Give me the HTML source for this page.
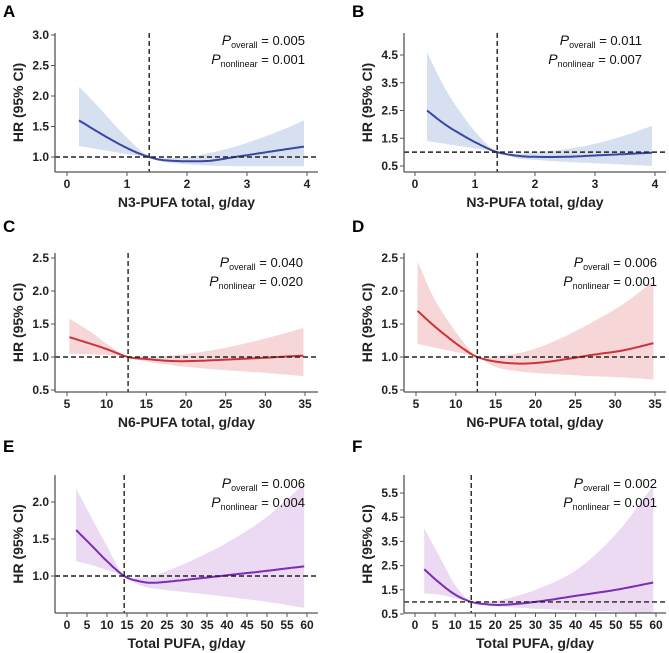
<!DOCTYPE html>
<html><head><meta charset="utf-8">
<style>
html,body{margin:0;padding:0;background:#fff;}
svg{display:block;font-family:"Liberation Sans",Arial,sans-serif;}
.tick{font-size:12px;font-weight:bold;fill:#222;}
.atitle{font-size:14px;font-weight:bold;fill:#222;}
.plab{font-size:17px;font-weight:bold;fill:#000;}
.pt{font-size:13px;fill:#111;}
</style></head>
<body>
<svg id="fig" width="669" height="653" viewBox="0 0 669 653"></svg>
<script>
// ---- Panel A data ----
const aX  = [0.2,0.5,0.8,1.1,1.37,1.6,2.0,2.4,2.8,3.2,3.6,3.95];
const aHR = [1.6,1.42,1.25,1.1,1.0,0.95,0.93,0.94,1.0,1.06,1.12,1.17];
const aLo = [1.18,1.13,1.08,1.03,1.0,0.92,0.88,0.86,0.85,0.85,0.85,0.85];
const aHi = [2.15,1.85,1.52,1.22,1.0,0.98,1.0,1.07,1.17,1.3,1.45,1.6];
const aXTicks = [0,1,2,3,4];
const aYTicks = [1.0,1.5,2.0,2.5,3.0];
// ---- Panel B data ----
const bX  = [0.2,0.5,0.8,1.1,1.37,1.7,2.0,2.5,3.0,3.5,3.95];
const bHR = [2.5,2.0,1.6,1.25,1.0,0.87,0.83,0.83,0.88,0.93,0.98];
const bLo = [1.4,1.3,1.2,1.1,1.0,0.78,0.72,0.65,0.6,0.55,0.5];
const bHi = [4.6,3.3,2.3,1.5,1.0,0.95,1.0,1.1,1.3,1.6,1.95];
const bXTicks = [0,1,2,3,4];
const bYTicks = [0.5,1.5,2.5,3.5,4.5];
// ---- Panel C data ----
const cX  = [5.3,8,10,12.7,15,18,21,25,30,34.8];
const cHR = [1.3,1.2,1.12,1.0,0.97,0.94,0.94,0.96,0.99,1.02];
const cLo = [1.05,1.04,1.03,1.0,0.93,0.88,0.84,0.80,0.76,0.71];
const cHi = [1.58,1.38,1.2,1.0,1.0,1.02,1.06,1.14,1.28,1.44];
const cXTicks = [5,10,15,20,25,30,35];
const cYTicks = [0.5,1.0,1.5,2.0,2.5];
// ---- Panel D data ----
const dX  = [5.2,7,9,11,12.7,15,18,21,24,27,31,34.8];
const dHR = [1.7,1.5,1.3,1.12,1.0,0.93,0.9,0.92,0.97,1.03,1.1,1.21];
const dLo = [1.2,1.15,1.1,1.05,1.0,0.85,0.78,0.75,0.73,0.71,0.69,0.66];
const dHi = [2.45,1.95,1.55,1.22,1.0,1.01,1.06,1.17,1.33,1.52,1.8,2.15];
const dXTicks = [5,10,15,20,25,30,35];
const dYTicks = [0.5,1.0,1.5,2.0,2.5];
// ---- Panel E data ----
const eX  = [2.3,6,10,14.3,18,22,30,40,50,59.3];
const eHR = [1.62,1.42,1.2,1.0,0.93,0.91,0.95,1.01,1.07,1.13];
const eLo = [1.2,1.15,1.08,1.0,0.88,0.83,0.78,0.72,0.65,0.57];
const eHi = [2.18,1.8,1.4,1.0,0.98,1.01,1.18,1.45,1.8,2.25];
const eXTicks = [0,5,10,15,20,25,30,35,40,45,50,55,60];
const eYTicks = [1.0,1.5,2.0];
// ---- Panel F data ----
const fX  = [2.3,6,10,14,18,22,30,40,50,59.3];
const fHR = [2.35,1.8,1.3,1.0,0.9,0.88,1.0,1.25,1.5,1.8];
const fLo = [1.35,1.3,1.15,1.0,0.85,0.8,0.72,0.65,0.6,0.55];
const fHi = [4.05,2.9,1.7,1.0,1.0,1.1,1.5,2.3,3.8,5.8];
const fXTicks = [0,5,10,15,20,25,30,35,40,45,50,55,60];
const fYTicks = [0.5,1.5,2.5,3.5,4.5,5.5];

const svg = document.getElementById('fig');
const NS = 'http://www.w3.org/2000/svg';
function mk(tag, attrs, parent){const e=document.createElementNS(NS,tag);for(const k in attrs)e.setAttribute(k,attrs[k]);(parent||svg).appendChild(e);return e;}

function smooth(pts){ // catmull-rom sampled
  const out=[];
  for(let i=0;i<pts.length-1;i++){
    const p0=pts[Math.max(0,i-1)],p1=pts[i],p2=pts[i+1],p3=pts[Math.min(pts.length-1,i+2)];
    for(let t=0;t<1;t+=0.1){
      const t2=t*t,t3=t2*t;
      const f=(a,b,c,d)=>0.5*((2*b)+(-a+c)*t+(2*a-5*b+4*c-d)*t2+(-a+3*b-3*c+d)*t3);
      out.push([f(p0[0],p1[0],p2[0],p3[0]),f(p0[1],p1[1],p2[1],p3[1])]);
    }
  }
  out.push(pts[pts.length-1]);
  return out;
}

const panels = [
 {id:'a',L:'A',X:aX,HR:aHR,Lo:aLo,Hi:aHi,xt:aXTicks,yt:aYTicks,fmt:1,
  ax:55,top:33,base:172,right:318,x0:0,x1:4,px0:67,px1:307,y0:1.0,y1:3.0,py0:157,py1:35,
  ref:1.37,line:'#3a47a0',band:'#d6e0f1',p1:'0.005',p2:'0.001',pe:305,py:45,lx:3,ly:17,xt_title:'N3-PUFA total, g/day',off:0},
 {id:'b',L:'B',X:bX,HR:bHR,Lo:bLo,Hi:bHi,xt:bXTicks,yt:bYTicks,fmt:1,
  ax:404,top:33,base:172,right:666,x0:0,x1:4,px0:415,px1:655,y0:0.5,y1:4.5,py0:166,py1:55,
  ref:1.37,line:'#3a47a0',band:'#d6e0f1',p1:'0.011',p2:'0.007',pe:642,py:45,lx:352,ly:17,xt_title:'N3-PUFA total, g/day'},
 {id:'c',L:'C',X:cX,HR:cHR,Lo:cLo,Hi:cHi,xt:cXTicks,yt:cYTicks,fmt:1,
  ax:55,top:253,base:392,right:318,x0:5,x1:35,px0:67,px1:305,y0:0.5,y1:2.5,py0:390,py1:258,
  ref:12.7,line:'#cc3339',band:'#f7d6d8',p1:'0.040',p2:'0.020',pe:303,py:267,lx:3,ly:232,xt_title:'N6-PUFA total, g/day'},
 {id:'d',L:'D',X:dX,HR:dHR,Lo:dLo,Hi:dHi,xt:dXTicks,yt:dYTicks,fmt:1,
  ax:404,top:253,base:392,right:666,x0:5,x1:35,px0:416,px1:655,y0:0.5,y1:2.5,py0:390,py1:258,
  ref:12.7,line:'#cc3339',band:'#f7d6d8',p1:'0.006',p2:'0.001',pe:657,py:267,lx:352,ly:232,xt_title:'N6-PUFA total, g/day'},
 {id:'e',L:'E',X:eX,HR:eHR,Lo:eLo,Hi:eHi,xt:eXTicks,yt:eYTicks,fmt:1,
  ax:55,top:475,base:613,right:318,x0:0,x1:60,px0:67,px1:307,y0:1.0,y1:2.0,py0:576,py1:502,
  ref:14.3,line:'#7a2db5',band:'#ecd9f2',p1:'0.006',p2:'0.004',pe:305,py:488,lx:3,ly:452,xt_title:'Total PUFA, g/day'},
 {id:'f',L:'F',X:fX,HR:fHR,Lo:fLo,Hi:fHi,xt:fXTicks,yt:fYTicks,fmt:1,
  ax:404,top:475,base:613,right:666,x0:0,x1:60,px0:415,px1:656,y0:0.5,y1:5.5,py0:614,py1:493,
  ref:14,line:'#7a2db5',band:'#ecd9f2',p1:'0.002',p2:'0.001',pe:657,py:488,lx:352,ly:452,xt_title:'Total PUFA, g/day'}
];

panels.forEach(P=>{
  const g = mk('g',{});
  
  
  const sx = v => P.px0 + (v-P.x0)*(P.px1-P.px0)/(P.x1-P.x0);
  const sy = v => P.py0 + (v-P.y0)*(P.py1-P.py0)/(P.y1-P.y0);
  const lab = mk('text',{x:P.lx,y:P.ly,class:'plab'},g); lab.textContent=P.L;
  
  
  // band
  const hiPts = smooth(P.X.map((x,i)=>[sx(x),sy(P.Hi[i])]));
  const loPts = smooth(P.X.map((x,i)=>[sx(x),sy(P.Lo[i])]));
  const bandPts = hiPts.concat(loPts.slice().reverse());
  const band = mk('path',{d:'M'+bandPts.map(p=>p[0].toFixed(1)+','+p[1].toFixed(1)).join('L')+'Z',fill:P.band,stroke:'none'},g);
  
  
  // line
  const hrPts = smooth(P.X.map((x,i)=>[sx(x),sy(P.HR[i])]));
  const ln = mk('path',{d:'M'+hrPts.map(p=>p[0].toFixed(1)+','+p[1].toFixed(1)).join('L'),fill:'none',stroke:P.line,'stroke-width':2},g);
  
  
  // reference lines
  const hl = mk('line',{x1:P.ax,x2:P.right,y1:sy(1),y2:sy(1),stroke:'#222','stroke-width':1.4,'stroke-dasharray':'5,3'},g);
  
  
  const vl = mk('line',{x1:sx(P.ref),x2:sx(P.ref),y1:P.top,y2:P.base,stroke:'#222','stroke-width':1.4,'stroke-dasharray':'5,3'},g);
  
  
  // axes
  const ya = mk('line',{x1:P.ax,x2:P.ax,y1:P.top,y2:P.base,stroke:'#555','stroke-width':1.3},g);
  
  
  const xa = mk('line',{x1:P.ax,x2:P.right,y1:P.base,y2:P.base,stroke:'#555','stroke-width':1.3},g);
  
  
  P.xt.forEach(v=>{
    mk('line',{x1:sx(v),x2:sx(v),y1:P.base,y2:P.base+4,stroke:'#555','stroke-width':1},g);
    const t=mk('text',{x:sx(v),y:P.base+16,class:'tick','text-anchor':'middle'},g); t.textContent=v;
    
    
  });
  P.yt.forEach(v=>{
    mk('line',{x1:P.ax-4,x2:P.ax,y1:sy(v),y2:sy(v),stroke:'#555','stroke-width':1},g);
    const t=mk('text',{x:P.ax-6,y:sy(v)+4,class:'tick','text-anchor':'end'},g); t.textContent=v.toFixed(1);
    
    
  });
  const xtl = mk('text',{x:(P.ax+P.right)/2,y:P.base+35,class:'atitle','text-anchor':'middle'},g); xtl.textContent=P.xt_title;
  
  
  const yc=(P.top+P.base)/2, yx=P.ax-32;
  const ytl = mk('text',{x:yx,y:yc,class:'atitle','text-anchor':'middle',transform:`rotate(-90 ${yx} ${yc})`},g); ytl.textContent='HR (95% CI)';
  
  
  const t1 = mk('text',{x:P.pe,y:P.py,class:'pt','text-anchor':'end'},g);
  t1.innerHTML='<tspan font-style="italic" font-size="14">P</tspan><tspan font-size="9" dy="3">overall</tspan><tspan dy="-3"> = '+P.p1+'</tspan>';
  
  
  const t2 = mk('text',{x:P.pe,y:P.py+19,class:'pt','text-anchor':'end'},g);
  t2.innerHTML='<tspan font-style="italic" font-size="14">P</tspan><tspan font-size="9" dy="3">nonlinear</tspan><tspan dy="-3"> = '+P.p2+'</tspan>';
  
  
});
</script>
</body></html>
